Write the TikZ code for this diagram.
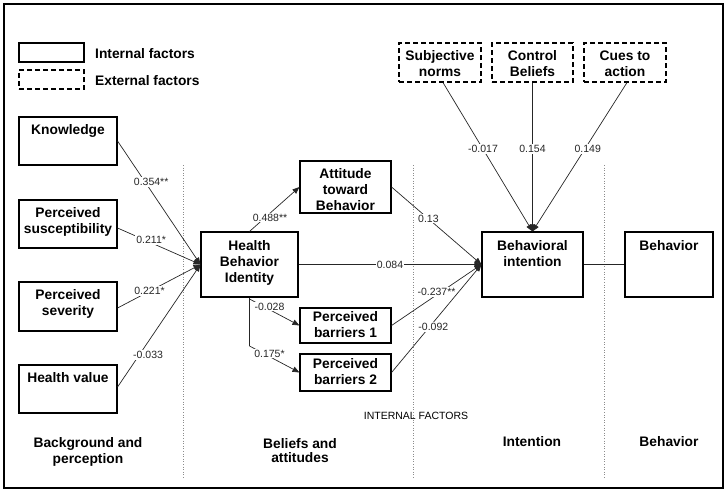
\documentclass[tikz,border=0pt]{standalone}
\usepackage{fontspec}
\setmainfont{Liberation Sans}
\usetikzlibrary{arrows.meta}
\begin{document}
\begin{tikzpicture}[x=1pt,y=-1pt,
 bx/.style={draw=black, line width=1.1pt, inner sep=0pt},
 dbx/.style={bx, dash pattern=on 5pt off 3pt},
 bt/.style={font=\fontsize{13.8pt}{16pt}\selectfont\bfseries, align=center, inner sep=0pt},
 lab/.style={font=\fontsize{10.5pt}{12pt}\selectfont, fill=white, inner sep=1pt, text=black!85},
 con/.style={line width=0.7pt, draw=black!85},
 arr/.style={con, -{Triangle[length=7pt,width=5.5pt]}},
 divider/.style={draw=black!45, line width=0.6pt, dotted}]
\useasboundingbox (0,0) rectangle (727,493);
\draw[line width=2pt] (4,4) rectangle (723,488);
% dividers
\draw[divider] (183,165) -- (183,479);
\draw[divider] (413,165) -- (413,479);
\draw[divider] (604,165) -- (604,479);
% legend
\node[bx, minimum width=65pt, minimum height=19pt] (legI) at (51.5,52.5) {};
\node[bt, anchor=west] (legIt) at (95,54) {Internal factors};
\node[dbx, minimum width=65pt, minimum height=19pt] (legE) at (51.5,79.5) {};
\node[bt, anchor=west] (legEt) at (95,81) {External factors};
% left column
\node[bx, minimum width=98pt, minimum height=48pt] (kn) at (68,141) {};
\node[bt] (knt) at (68,130.5) {Knowledge};
\node[bx, minimum width=98pt, minimum height=48pt] (ps) at (68,224) {};
\node[bt] (pst) at (68,221.5) {Perceived\\susceptibility};
\node[bx, minimum width=98pt, minimum height=49pt] (sev) at (68,306.5) {};
\node[bt] (sevt) at (68,304) {Perceived\\severity};
\node[bx, minimum width=98pt, minimum height=48pt] (hv) at (68,389) {};
\node[bt] (hvt) at (68,378) {Health value};
% HBI
\node[bx, minimum width=97pt, minimum height=65pt] (hbi) at (249.5,264.5) {};
\node[bt] (hbit) at (249.5,262.5) {Health\\Behavior\\Identity};
% beliefs
\node[bx, minimum width=91pt, minimum height=52pt] (att) at (345.5,187) {};
\node[bt] (attt) at (345.5,190) {Attitude\\toward\\Behavior};
\node[bx, minimum width=91pt, minimum height=35pt] (pb1) at (345.5,325.5) {};
\node[bt] (pb1t) at (345.5,325) {Perceived\\barriers 1};
\node[bx, minimum width=91pt, minimum height=37pt] (pb2) at (345.5,372.5) {};
\node[bt] (pb2t) at (345.5,372) {Perceived\\barriers 2};
% external
\node[dbx, minimum width=82pt, minimum height=39pt] (sn) at (440,62.5) {};
\node[bt] (snt) at (440,64) {Subjective\\norms};
\node[dbx, minimum width=81pt, minimum height=39pt] (cb) at (532.5,62.5) {};
\node[bt] (cbt) at (532.5,64) {Control\\Beliefs};
\node[dbx, minimum width=82pt, minimum height=39pt] (ca) at (625,62.5) {};
\node[bt] (cat) at (625,64) {Cues to\\action};
% intention / behavior
\node[bx, minimum width=101pt, minimum height=65pt] (bi) at (532.5,264.5) {};
\node[bt] (bit) at (532.5,254) {Behavioral\\intention};
\node[bx, minimum width=88pt, minimum height=65pt] (beh) at (669,264.5) {};
\node[bt] (beht) at (669,246) {Behavior};
% connectors to HBI
\draw[arr] (kn.east) -- node[lab, pos=0.333, xshift=6pt] {0.354**} (hbi.west);
\draw[arr] ([yshift=-4pt]ps.east) -- node[lab, pos=0.333, xshift=6pt] {0.211*} (hbi.west);
\draw[arr] ([yshift=-1.5pt]sev.east) -- node[lab, pos=0.386] {0.221*} (hbi.west);
\draw[arr] ([yshift=2pt]hv.east) -- node[lab, pos=0.26, xshift=9pt] {-0.033} (hbi.west);
% from HBI
\draw[arr] (hbi.north) -- node[lab, pos=0.31, xshift=5pt] {0.488**} (att.west);
\draw[arr] (hbi.east) -- node[lab, pos=0.5] {0.084} (bi.west);
\coordinate (hb1) at (249.5,299);
\coordinate (hb2) at (249.5,346);
\draw[con] (hbi.south) -- (hb2);
\draw[arr] (hb1) -- node[lab, pos=0.4, yshift=3pt] {-0.028} (pb1.west);
\draw[arr] (hb2) -- node[lab, pos=0.4, yshift=3pt] {0.175*} (pb2.west);
% to BI
\draw[arr] (att.east) -- node[lab, pos=0.41] {0.13} (bi.west);
\draw[arr] (pb1.east) -- node[lab, pos=0.5, yshift=3pt] {-0.237**} (bi.west);
\draw[arr] (pb2.east) -- node[lab, pos=0.42, xshift=4pt] {-0.092} (bi.west);
\draw[arr] ([xshift=3pt]sn.south) -- node[lab, pos=0.447] {-0.017} (bi.north);
\draw[arr] (cb.south) -- node[lab, pos=0.447] {0.154} (bi.north);
\draw[arr] ([xshift=2pt]ca.south) -- node[lab, pos=0.447, xshift=3pt] {0.149} (bi.north);
\draw[con] (bi.east) -- (beh.west);
% bottom labels
\node[font=\fontsize{10.5pt}{12pt}\selectfont, inner sep=0pt] (intf) at (416,416) {INTERNAL FACTORS};
\node[bt] (c1) at (88,451.5) {Background and\\perception};
\node[bt, font=\fontsize{13.8pt}{14.5pt}\selectfont\bfseries] (c2) at (300,450.5) {Beliefs and\\attitudes};
\node[bt] (c3) at (532,442) {Intention};
\node[bt] (c4) at (669,442) {Behavior};
\end{tikzpicture}
\end{document}
